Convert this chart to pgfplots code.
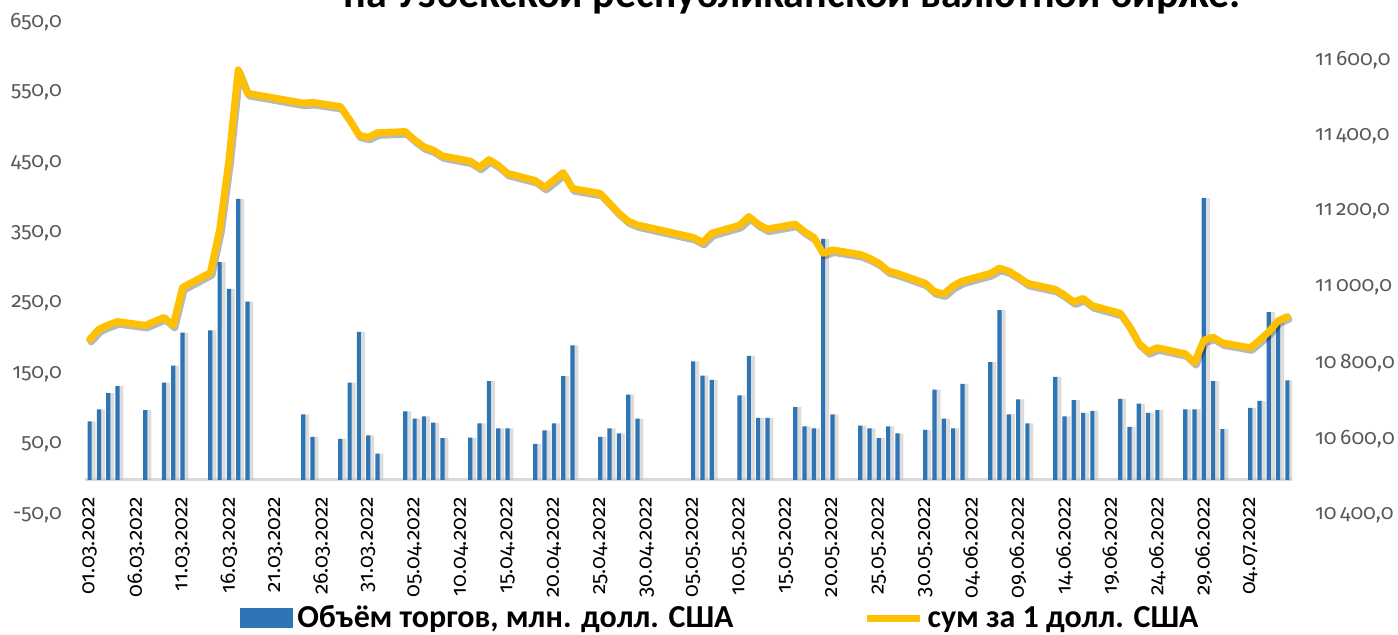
\documentclass[border=0pt]{standalone}
\usepackage{fontspec}
\setmainfont{Carlito}
\newfontfamily\numfont{Fira Sans}[Numbers=OldStyle]
\usepackage{pgfplots}
\pgfplotsset{compat=1.18}
\usepackage{pgfplotstable}
\definecolor{barblue}{HTML}{2E75B6}
\definecolor{linegold}{HTML}{FFC000}
\definecolor{ticktxt}{HTML}{595959}
\pgfplotsset{numfmt/.style={
  /pgf/number format/fixed, /pgf/number format/fixed zerofill,
  /pgf/number format/precision=1, /pgf/number format/use comma,
  /pgf/number format/1000 sep={\,}, /pgf/number format/assume math mode=true}}

\pgfplotstableread{
x y
0 83
1 100
2 123
3 133
6 99
8 138
9 162
10 209
13 212
14 309
15 271
16 399
17 253
23 93
24 61
27 58
28 138
29 210
30 63
31 37
34 97
35 87
36 90
37 81
38 59
41 60
42 80
43 140
44 73
45 73
48 51
49 70
50 80
51 147
52 191
55 61
56 73
57 66
58 121
59 87
65 168
66 148
67 142
70 120
71 176
72 88
73 88
76 103
77 76
78 73
79 342
80 93
83 77
84 73
85 59
86 76
87 66
90 71
91 128
92 87
93 73
94 136
97 167
98 241
99 93
100 114
101 80
104 146
105 90
106 113
107 95
108 98
111 115
112 75
113 108
114 95
115 99
118 100
119 100
120 400
121 140
122 72
125 102
126 112
127 238
128 225
129 141
}\bardata

\pgfplotstableread{
x y
0 10863
1 10890
2 10901
3 10910
6 10900
8 10921
9 10900
10 11000
13 11039
14 11152
15 11336
16 11574
17 11512
23 11486
24 11488
27 11477
28 11442
29 11402
30 11396
31 11408
34 11411
35 11389
36 11371
37 11362
38 11347
41 11333
42 11317
43 11337
44 11322
45 11301
48 11282
49 11264
50 11283
51 11303
52 11261
55 11248
56 11222
57 11196
58 11175
59 11165
65 11132
66 11119
67 11143
70 11164
71 11187
72 11167
73 11154
76 11167
77 11147
78 11132
79 11090
80 11099
83 11087
84 11077
85 11064
86 11044
87 11037
90 11011
91 10989
92 10983
93 11004
94 11017
97 11037
98 11051
99 11043
100 11028
101 11011
104 10995
105 10980
106 10962
107 10971
108 10952
111 10932
112 10897
113 10853
114 10831
115 10841
118 10825
119 10802
120 10861
121 10869
122 10854
125 10841
126 10861
127 10883
128 10912
129 10923
}\ratedata

\begin{document}
\begin{tikzpicture}[x=1pt,y=1pt]
\path[use as bounding box] (0,0) rectangle (699,317.5);
\node[anchor=base, inner sep=0pt, font=\bfseries\fontsize{21}{25}\selectfont] at (396,313.5) {на Узбекской республиканской валютной бирже.};

\begin{axis}[
  at={(42.5pt,60pt)}, anchor=south west, scale only axis,
  width=603.5pt, height=246.5pt,
  xmin=-0.5, xmax=129.5, ymin=-50, ymax=650,
  ybar,
  axis x line=middle,
  axis y line*=left,
  x axis line style={-, draw=black!15, line width=1.5pt},
  y axis line style={draw=none},
  major tick length=0pt,
  scaled y ticks=false,
  ytick={-50,50,...,650},
  yticklabel style={color=ticktxt, font=\numfont\fontsize{10.5}{12}\selectfont, xshift=-8pt, numfmt},
  xtick={0,5,...,125},
  xticklabels={01.03.2022,06.03.2022,11.03.2022,16.03.2022,21.03.2022,26.03.2022,31.03.2022,05.04.2022,10.04.2022,15.04.2022,20.04.2022,25.04.2022,30.04.2022,05.05.2022,10.05.2022,15.05.2022,20.05.2022,25.05.2022,30.05.2022,04.06.2022,09.06.2022,14.06.2022,19.06.2022,24.06.2022,29.06.2022,04.07.2022},
  xticklabel style={rotate=90, anchor=east, inner sep=1pt, font=\numfont\fontsize{10.5}{12}\selectfont, color=black},
  xticklabel shift=7.5pt,
  legend columns=2,
  legend style={at={(0.5273,-0.209)}, anchor=center, draw=none, fill=none, inner sep=0pt,
    font=\bfseries\fontsize{16}{18}\selectfont,
    /tikz/every even column/.append style={column sep=63pt}},
  legend cell align=left,
]
\addplot[fill=black!25, draw=none, opacity=0.55, bar width=2.8pt, bar shift=1.6pt, forget plot] table {\bardata};
\addplot[fill=barblue, draw=none, bar width=2.1pt, bar shift=0pt,
  legend image code/.code={\fill[barblue] (0pt,-5pt) rectangle (26.5pt,5pt);}] table {\bardata};
\addlegendentry{Объём торгов, млн. долл. США}
\addlegendimage{legend image code/.code={\draw[linegold, line width=3.5pt] (0pt,0pt) -- (26.5pt,0pt);}}
\addlegendentry{сум за 1 долл. США}
\end{axis}

\begin{axis}[
  at={(42.5pt,60pt)}, anchor=south west, scale only axis,
  width=603.5pt, height=246.5pt,
  xmin=-0.5, xmax=129.5, ymin=10400, ymax=11700,
  axis x line=none,
  axis y line*=right,
  y axis line style={draw=none},
  major tick length=0pt,
  scaled y ticks=false,
  ytick={10400,10600,...,11600},
  yticklabel style={color=ticktxt, anchor=west, xshift=8pt, font=\numfont\fontsize{10.5}{12}\selectfont, numfmt},
]
\addplot[black, opacity=0.28, line width=3.5pt, line join=round, line cap=round, xshift=0.8pt, yshift=-1.3pt] table {\ratedata};
\addplot[linegold, line width=3.5pt, line join=round, line cap=round] table {\ratedata};
\end{axis}
\end{tikzpicture}
\end{document}
